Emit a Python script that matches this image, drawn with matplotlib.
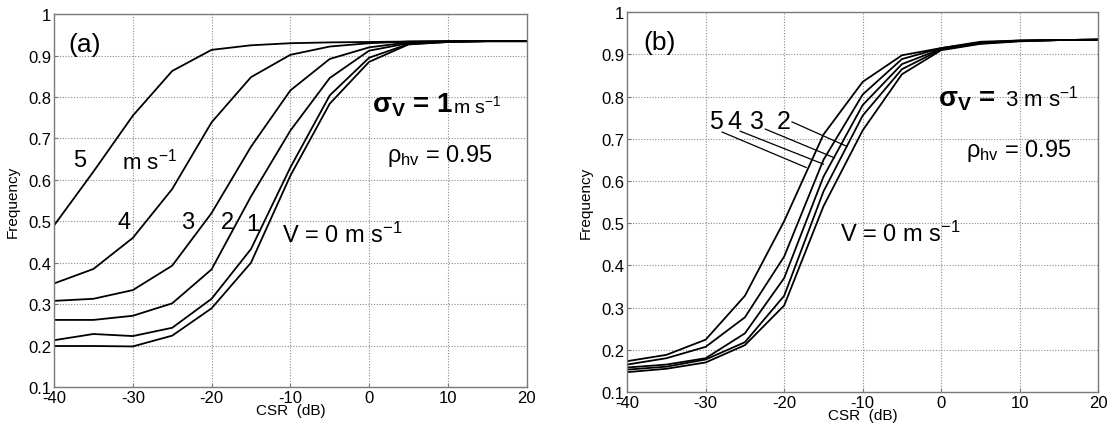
import matplotlib
matplotlib.use("Agg")
import matplotlib.pyplot as plt
from matplotlib.ticker import FuncFormatter

plt.rcParams['font.family'] = ['Liberation Sans', 'DejaVu Sans']
plt.rcParams['mathtext.fontset'] = 'custom'
plt.rcParams['mathtext.rm'] = 'Liberation Sans'
plt.rcParams['mathtext.it'] = 'Liberation Sans:italic'
plt.rcParams['mathtext.bf'] = 'Liberation Sans:bold'
plt.rcParams['mathtext.default'] = 'regular'

# ---------------- data ----------------
csr = [-40, -35, -30, -25, -20, -15, -10, -5, 0, 5, 10, 15, 20]

# panel (a): sigma_v = 1 m/s, velocities 5..0
a_v5 = [0.490, 0.620, 0.755, 0.863, 0.914, 0.925, 0.930, 0.932, 0.933, 0.934, 0.935, 0.935, 0.935]
a_v4 = [0.350, 0.385, 0.460, 0.578, 0.739, 0.848, 0.902, 0.922, 0.930, 0.934, 0.935, 0.935, 0.935]
a_v3 = [0.308, 0.313, 0.334, 0.393, 0.520, 0.680, 0.816, 0.892, 0.920, 0.932, 0.934, 0.935, 0.935]
a_v2 = [0.262, 0.262, 0.272, 0.302, 0.384, 0.560, 0.719, 0.846, 0.912, 0.930, 0.934, 0.935, 0.935]
a_v1 = [0.213, 0.228, 0.223, 0.243, 0.313, 0.433, 0.630, 0.804, 0.895, 0.928, 0.933, 0.935, 0.935]
a_v0 = [0.199, 0.199, 0.198, 0.224, 0.290, 0.400, 0.610, 0.784, 0.885, 0.927, 0.933, 0.935, 0.935]

# panel (b): sigma_v = 3 m/s, velocities 5,4,3,2,0
b_v5 = [0.173, 0.188, 0.224, 0.328, 0.505, 0.710, 0.835, 0.898, 0.915, 0.930, 0.933, 0.934, 0.935]
b_v4 = [0.165, 0.180, 0.207, 0.277, 0.421, 0.650, 0.805, 0.889, 0.915, 0.928, 0.933, 0.934, 0.935]
b_v3 = [0.158, 0.165, 0.180, 0.239, 0.370, 0.610, 0.780, 0.877, 0.913, 0.927, 0.932, 0.934, 0.935]
b_v2 = [0.153, 0.160, 0.177, 0.218, 0.328, 0.575, 0.755, 0.865, 0.912, 0.926, 0.932, 0.934, 0.935]
b_v0 = [0.147, 0.155, 0.170, 0.211, 0.305, 0.540, 0.720, 0.853, 0.910, 0.925, 0.931, 0.934, 0.935]

x_ticks = [-40, -30, -20, -10, 0, 10, 20]
y_ticks = [0.1, 0.2, 0.3, 0.4, 0.5, 0.6, 0.7, 0.8, 0.9, 1.0]

# ---------------- figure ----------------
fig = plt.figure(figsize=(11.12, 4.35), dpi=100)
ax_a = fig.add_axes([0.0486, 0.108, 0.425, 0.857])
ax_b = fig.add_axes([0.564, 0.0966, 0.4236, 0.873])

def style(ax):
    ax.set_xlim(-40, 20)
    ax.set_ylim(0.1, 1.0)
    ax.set_xticks(x_ticks)
    ax.set_yticks(y_ticks)
    ax.yaxis.set_major_formatter(FuncFormatter(lambda v, p: f"{v:g}"))
    ax.xaxis.set_major_formatter(FuncFormatter(lambda v, p: f"{v:g}"))
    ax.grid(True, linestyle=(0, (1, 1.5)), color='#8a8a8a', linewidth=0.8)
    ax.set_axisbelow(True)
    for s in ax.spines.values():
        s.set_color('#7a7a7a')
        s.set_linewidth(1.0)
    ax.tick_params(direction='in', length=3, color='#7a7a7a', labelsize=12,
                   pad=2, top=False, right=False)
    ax.set_xlabel('CSR  (dB)', fontsize=11, labelpad=-1)
    ax.set_ylabel('Frequency', fontsize=11, labelpad=6)

lw = 1.3
for ys in (a_v5, a_v4, a_v3, a_v2, a_v1, a_v0):
    ax_a.plot(csr, ys, color='black', linewidth=lw)
for ys in (b_v5, b_v4, b_v3, b_v2, b_v0):
    ax_b.plot(csr, ys, color='black', linewidth=lw)

style(ax_a)
style(ax_b)

# ---------------- annotations panel (a) ----------------
ax_a.text(-38.2, 0.928, '(a)', fontsize=19, va='center', ha='left')
ax_a.text(-36.7, 0.648, '5', fontsize=17, va='center', ha='center')
ax_a.text(-31.4, 0.627, 'm s$^{-1}$', fontsize=16, va='baseline', ha='left')
ax_a.text(-31.1, 0.499, '4', fontsize=17, va='center', ha='center')
ax_a.text(-23.0, 0.499, '3', fontsize=17, va='center', ha='center')
ax_a.text(-18.0, 0.499, '2', fontsize=17, va='center', ha='center')
ax_a.text(-14.8, 0.494, '1', fontsize=17, va='center', ha='center')
ax_a.text(-11.1, 0.450, 'V = 0 m s$^{-1}$', fontsize=17, va='baseline', ha='left')
ax_a.text(0.4, 0.764, 'σ$_\\mathbf{V}$ = 1', fontsize=20, fontweight='bold',
          va='baseline', ha='left')
ax_a.text(10.6, 0.764, 'm s$^{-1}$', fontsize=14, va='baseline', ha='left')
ax_a.text(2.3, 0.646, 'ρ$_{hv}$ = 0.95', fontsize=17, va='baseline', ha='left')

# ---------------- annotations panel (b) ----------------
ax_b.text(-37.9, 0.93, '(b)', fontsize=19, va='center', ha='left')
labels_b = ['5', '4', '3', '2']
label_x = [-28.7, -26.3, -23.5, -20.0]
line_start = [(-27.9, 0.716), (-25.6, 0.718), (-22.4, 0.723), (-19.0, 0.740)]
line_end = [(-17.2, 0.632), (-15.0, 0.640), (-13.6, 0.655), (-12.0, 0.682)]
for lab, lx, s, e in zip(labels_b, label_x, line_start, line_end):
    ax_b.text(lx, 0.742, lab, fontsize=18, va='center', ha='center')
    ax_b.plot([s[0], e[0]], [s[1], e[1]], color='black', linewidth=0.9)
ax_b.text(-12.9, 0.458, 'V = 0 m s$^{-1}$', fontsize=17, va='baseline', ha='left')
ax_b.text(-0.4, 0.778, 'σ$_\\mathbf{V}$ =', fontsize=20, fontweight='bold',
          va='baseline', ha='left')
ax_b.text(8.1, 0.778, '3 m s$^{-1}$', fontsize=16, va='baseline', ha='left')
ax_b.text(3.1, 0.659, 'ρ$_{hv}$ = 0.95', fontsize=17, va='baseline', ha='left')

fig.savefig('out.png', dpi=100)
